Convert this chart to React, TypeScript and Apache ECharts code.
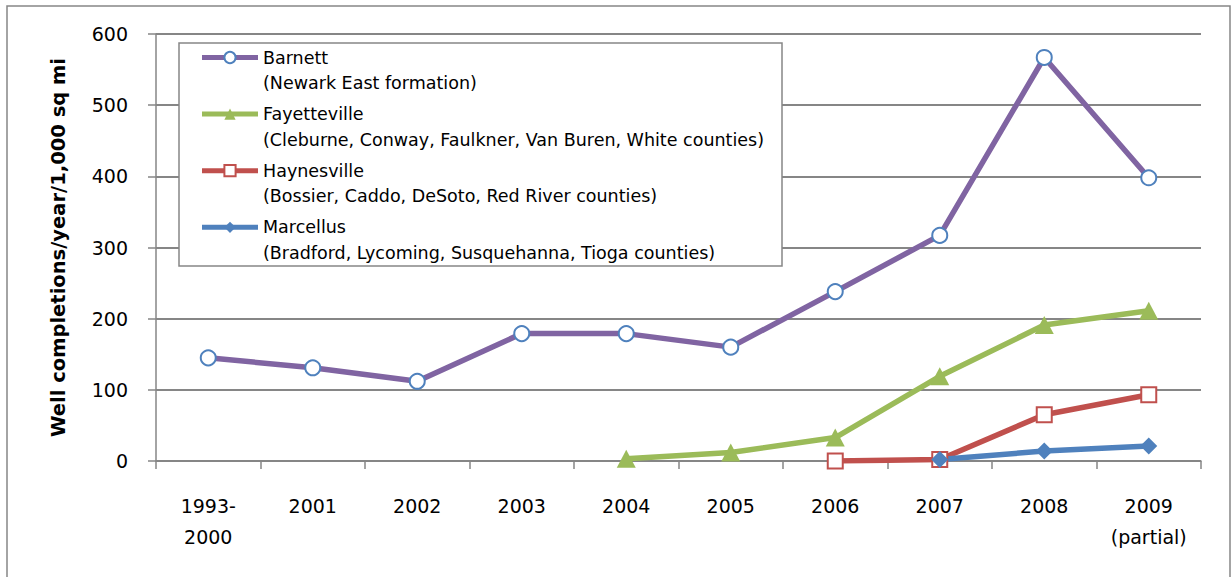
import React, { useEffect, useRef } from "react";
import * as echarts from "echarts";

const categories = [
  "1993-\n2000",
  "2001",
  "2002",
  "2003",
  "2004",
  "2005",
  "2006",
  "2007",
  "2008",
  "2009\n(partial)",
];

const barnett = [145, 131, 112, 179, 179, 160, 238, 317, 567, 398];
const fayetteville = [null, null, null, null, 3, 12, 33, 119, 191, 211];
const haynesville = [null, null, null, null, null, null, 0, 2, 65, 93];
const marcellus = [null, null, null, null, null, null, null, 2, 14, 21];

const seriesNames = ["Barnett", "Fayetteville", "Haynesville", "Marcellus"];
const seriesNotes = [
  "(Newark East formation)",
  "(Cleburne, Conway, Faulkner, Van Buren, White counties)",
  "(Bossier, Caddo, DeSoto, Red River counties)",
  "(Bradford, Lycoming, Susquehanna, Tioga counties)",
];

const yMin = 0;
const yMax = 600;
const yInterval = 100;
const yTitle = "Well completions/year/1,000 sq mi";

const FONT = "DejaVu Sans";
const GRAY = "#868686";
const LEG_LH = 25.5;

export default function App() {
  const ref = useRef<HTMLDivElement>(null);

  useEffect(() => {
    if (!ref.current) return;
    const chart = echarts.init(ref.current, undefined, { renderer: "svg" });

    const option: any = {
      animation: false,
      backgroundColor: "#ffffff",
      grid: { left: 156, right: 30, top: 34, bottom: 116, containLabel: false },
      graphic: [
        {
          type: "rect",
          z: 0,
          shape: { x: 7, y: 6, width: 1223, height: 640 },
          style: { fill: "none", stroke: GRAY, lineWidth: 1.5 },
        },
        {
          type: "rect",
          z: 3,
          shape: { x: 179, y: 43, width: 603, height: 223 },
          style: { fill: "#ffffff", stroke: GRAY, lineWidth: 1.5 },
        },
      ],
      legend: {
        orient: "vertical",
        left: 199.5,
        top: 57.5 - 1.5 * LEG_LH,
        padding: 0,
        itemGap: 56.6 - 3 * LEG_LH,
        itemWidth: 56,
        itemHeight: 14,
        z: 5,
        selectedMode: false,
        data: seriesNames,
        lineStyle: { width: 5 },
        formatter: (name: string) => {
          const i = seriesNames.indexOf(name);
          return " \n" + name + "\n" + seriesNotes[i];
        },
        textStyle: {
          fontFamily: FONT,
          fontSize: 17.5,
          lineHeight: LEG_LH,
          color: "#000",
        },
      },
      xAxis: {
        type: "category",
        data: categories,
        boundaryGap: true,
        axisLine: { show: true, lineStyle: { color: GRAY, width: 1.5 } },
        axisTick: {
          show: true,
          length: 8,
          alignWithLabel: false,
          lineStyle: { color: GRAY, width: 1.5 },
        },
        axisLabel: {
          interval: 0,
          margin: 29.5,
          fontFamily: FONT,
          fontSize: 19,
          lineHeight: 31,
          color: "#000",
        },
      },
      yAxis: {
        type: "value",
        min: yMin,
        max: yMax,
        interval: yInterval,
        name: yTitle,
        nameLocation: "middle",
        nameGap: 88,
        nameTextStyle: {
          fontFamily: FONT,
          fontSize: 19.5,
          fontWeight: "bold",
          color: "#000",
        },
        axisLine: { show: true, lineStyle: { color: GRAY, width: 1.5 } },
        axisTick: { show: true, length: 8, lineStyle: { color: GRAY, width: 1.5 } },
        axisLabel: {
          margin: 28,
          fontFamily: FONT,
          fontSize: 19,
          color: "#000",
        },
        splitLine: { show: true, lineStyle: { color: GRAY, width: 1.8 } },
      },
      series: [
        {
          name: seriesNames[0],
          type: "line",
          data: barnett,
          symbol: "circle",
          symbolSize: 15,
          lineStyle: { color: "#8064A2", width: 5.5 },
          itemStyle: { color: "#ffffff", borderColor: "#4F81BD", borderWidth: 2 },
          z: 2,
        },
        {
          name: seriesNames[1],
          type: "line",
          data: fayetteville,
          symbol: "triangle",
          symbolSize: [19, 18],
          lineStyle: { color: "#9BBB59", width: 5.5 },
          itemStyle: { color: "#9BBB59", borderColor: "#9BBB59", borderWidth: 0 },
          z: 2,
        },
        {
          name: seriesNames[2],
          type: "line",
          data: haynesville,
          symbol: "rect",
          symbolSize: 15,
          lineStyle: { color: "#C0504D", width: 5.5 },
          itemStyle: { color: "#ffffff", borderColor: "#C0504D", borderWidth: 2 },
          z: 2,
        },
        {
          name: seriesNames[3],
          type: "line",
          data: marcellus,
          symbol: "diamond",
          symbolSize: 17,
          lineStyle: { color: "#4F81BD", width: 5.5 },
          itemStyle: { color: "#4F81BD", borderColor: "#4F81BD", borderWidth: 0 },
          z: 2,
        },
      ],
    };

    chart.setOption(option);
    return () => chart.dispose();
  }, []);

  return (
    <div
      ref={ref}
      style={{ position: "absolute", left: 0, top: 0, width: 1231, height: 577 }}
    />
  );
}
